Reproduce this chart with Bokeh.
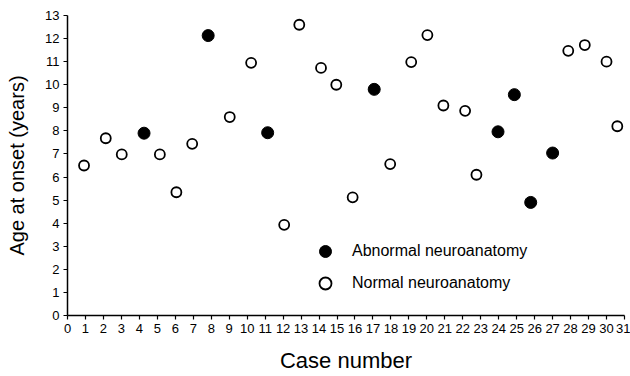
from bokeh.plotting import figure
from bokeh.models import Range1d, FixedTicker, Legend, LegendItem
from bokeh.embed import file_html
from bokeh.resources import INLINE

# Abnormal neuroanatomy (filled circles)
abn_case = [4.26, 7.83, 11.14, 17.07, 23.96, 24.87, 25.78, 27.0]
abn_age = [7.9, 12.13, 7.92, 9.8, 7.96, 9.57, 4.9, 7.04]

# Normal neuroanatomy (open circles)
norm_case = [0.92, 2.13, 3.02, 5.14, 6.06, 6.94, 9.03, 10.22, 12.06, 12.9, 14.11,
             14.96, 15.87, 17.96, 19.13, 20.03, 20.92, 22.13, 22.76, 27.87, 28.79,
             30.0, 30.6]
norm_age = [6.5, 7.68, 6.98, 6.98, 5.34, 7.44, 8.6, 10.95, 3.93, 12.6, 10.73,
            10.0, 5.12, 6.56, 10.98, 12.15, 9.1, 8.87, 6.1, 11.47, 11.72,
            11.0, 8.2]

x_ticks = list(range(0, 32))
y_ticks = list(range(0, 14))

FONT = "Liberation Sans"

p = figure(width=630, height=376, output_backend="svg", toolbar_location=None,
           x_range=Range1d(0, 31), y_range=Range1d(0, 13),
           min_border_left=67, min_border_right=6, min_border_top=15,
           min_border_bottom=61)
p.outline_line_color = None
p.xgrid.visible = False
p.ygrid.visible = False
p.background_fill_color = "white"

for ax in (p.xaxis[0], p.yaxis[0]):
    ax.axis_line_width = 1.5
    ax.axis_line_color = "black"
    ax.major_tick_line_color = "black"
    ax.major_tick_line_width = 1.2
    ax.major_tick_in = 0
    ax.major_tick_out = 4
    ax.minor_tick_line_color = None
    ax.major_label_text_font = FONT
    ax.major_label_text_font_size = "13px"
    ax.major_label_text_color = "black"
    ax.major_label_standoff = 4
    ax.axis_label_text_font = FONT
    ax.axis_label_text_font_style = "normal"
    ax.axis_label_text_color = "black"

p.xaxis[0].ticker = FixedTicker(ticks=x_ticks)
p.yaxis[0].ticker = FixedTicker(ticks=y_ticks)
p.xaxis[0].axis_label = "Case number"
p.yaxis[0].axis_label = "Age at onset (years)"
p.xaxis[0].axis_label_text_font_size = "22px"
p.yaxis[0].axis_label_text_font_size = "20px"
p.xaxis[0].axis_label_standoff = 12
p.yaxis[0].axis_label_standoff = 14

r_abn = p.scatter(abn_case, abn_age, size=12, marker="circle",
                  fill_color="black", line_color="black", line_width=1)
r_norm = p.scatter(norm_case, norm_age, size=10, marker="circle",
                   fill_color="white", line_color="black", line_width=1.8)

legend = Legend(items=[LegendItem(label="Abnormal neuroanatomy", renderers=[r_abn]),
                       LegendItem(label="Normal neuroanatomy", renderers=[r_norm])],
                location=(243, 17))
legend.border_line_color = None
legend.background_fill_alpha = 0
legend.padding = 0
legend.margin = 0
legend.spacing = 2
legend.glyph_width = 30
legend.glyph_height = 30
legend.label_height = 30
legend.label_standoff = 12
legend.label_text_font = FONT
legend.label_text_font_size = "16px"
legend.label_text_color = "black"
p.add_layout(legend)

open("out.html", "w").write(file_html(p, INLINE))
